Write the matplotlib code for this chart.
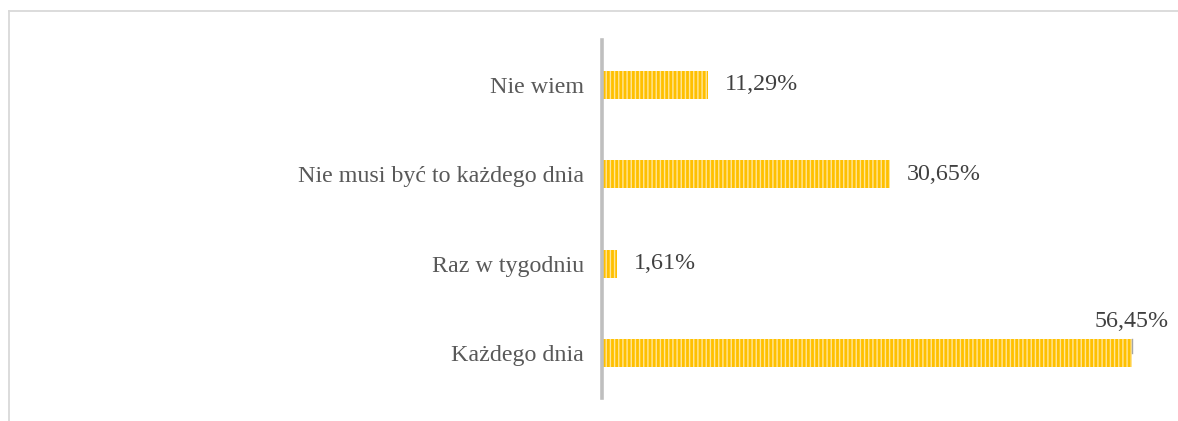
## frequency survey chart, horizontal bars with striped fill

import matplotlib.pyplot as plt
from matplotlib.lines import Line2D

categories = ['Każdego dnia', 'Raz w tygodniu', 'Nie musi być to każdego dnia', 'Nie wiem']
values = [56.45, 1.61, 30.65, 11.29]
value_labels = ['56,45%', '1,61%', '30,65%', '11,29%']

W, H = 1178, 421
plt.rcParams['font.family'] = ['Liberation Serif', 'DejaVu Serif']
plt.rcParams['hatch.linewidth'] = 1.0

fig = plt.figure(figsize=(W / 100, H / 100), dpi=100)
ax = fig.add_axes([602 / W, (H - 398) / H, 533 / W, 358 / H])

gold = '#FFC000'
pale = '#FFE699'
ypos = list(range(len(categories)))
ax.barh(ypos, values, height=0.31, color=gold, edgecolor=pale,
        hatch='||||', linewidth=0, zorder=2)

ax.set_xlim(0, 56.8)
ax.set_ylim(-0.5, len(categories) - 0.5)
ax.set_yticks(ypos)
ax.set_yticklabels(categories, fontsize=17.3, color='#595959')
ax.tick_params(axis='y', length=0, pad=13)
ax.set_xticks([])

for s in ['top', 'right', 'bottom']:
    ax.spines[s].set_visible(False)
ax.spines['left'].set_color('#BFBFBF')
ax.spines['left'].set_linewidth(2.6)
ax.spines['left'].set_zorder(3)

# data labels, the widest one goes above its bar
for y, v, lab in zip(ypos, values, value_labels):
    if v > 50:
        ax.annotate(lab, (v, y), xytext=(0, 15), textcoords='offset points',
                    ha='center', va='bottom', fontsize=17.3, color='#404040')
        ax.plot([v, v], [y + 0.155, y], color='#A6A6A6', lw=1, zorder=3)
    else:
        ax.annotate(lab, (v, y), xytext=(12, 0), textcoords='offset points',
                    ha='left', va='center', fontsize=17.3, color='#404040')

# chart frame, cropped at right and bottom
fc = '#D9D9D9'
fig.add_artist(Line2D([8.5 / W, 8.5 / W], [0, 1 - 10.5 / H], color=fc, lw=1.3,
                      transform=fig.transFigure))
fig.add_artist(Line2D([8.5 / W, 1], [1 - 10.5 / H, 1 - 10.5 / H], color=fc, lw=1.3,
                      transform=fig.transFigure))

fig.savefig('out.png', dpi=100)
